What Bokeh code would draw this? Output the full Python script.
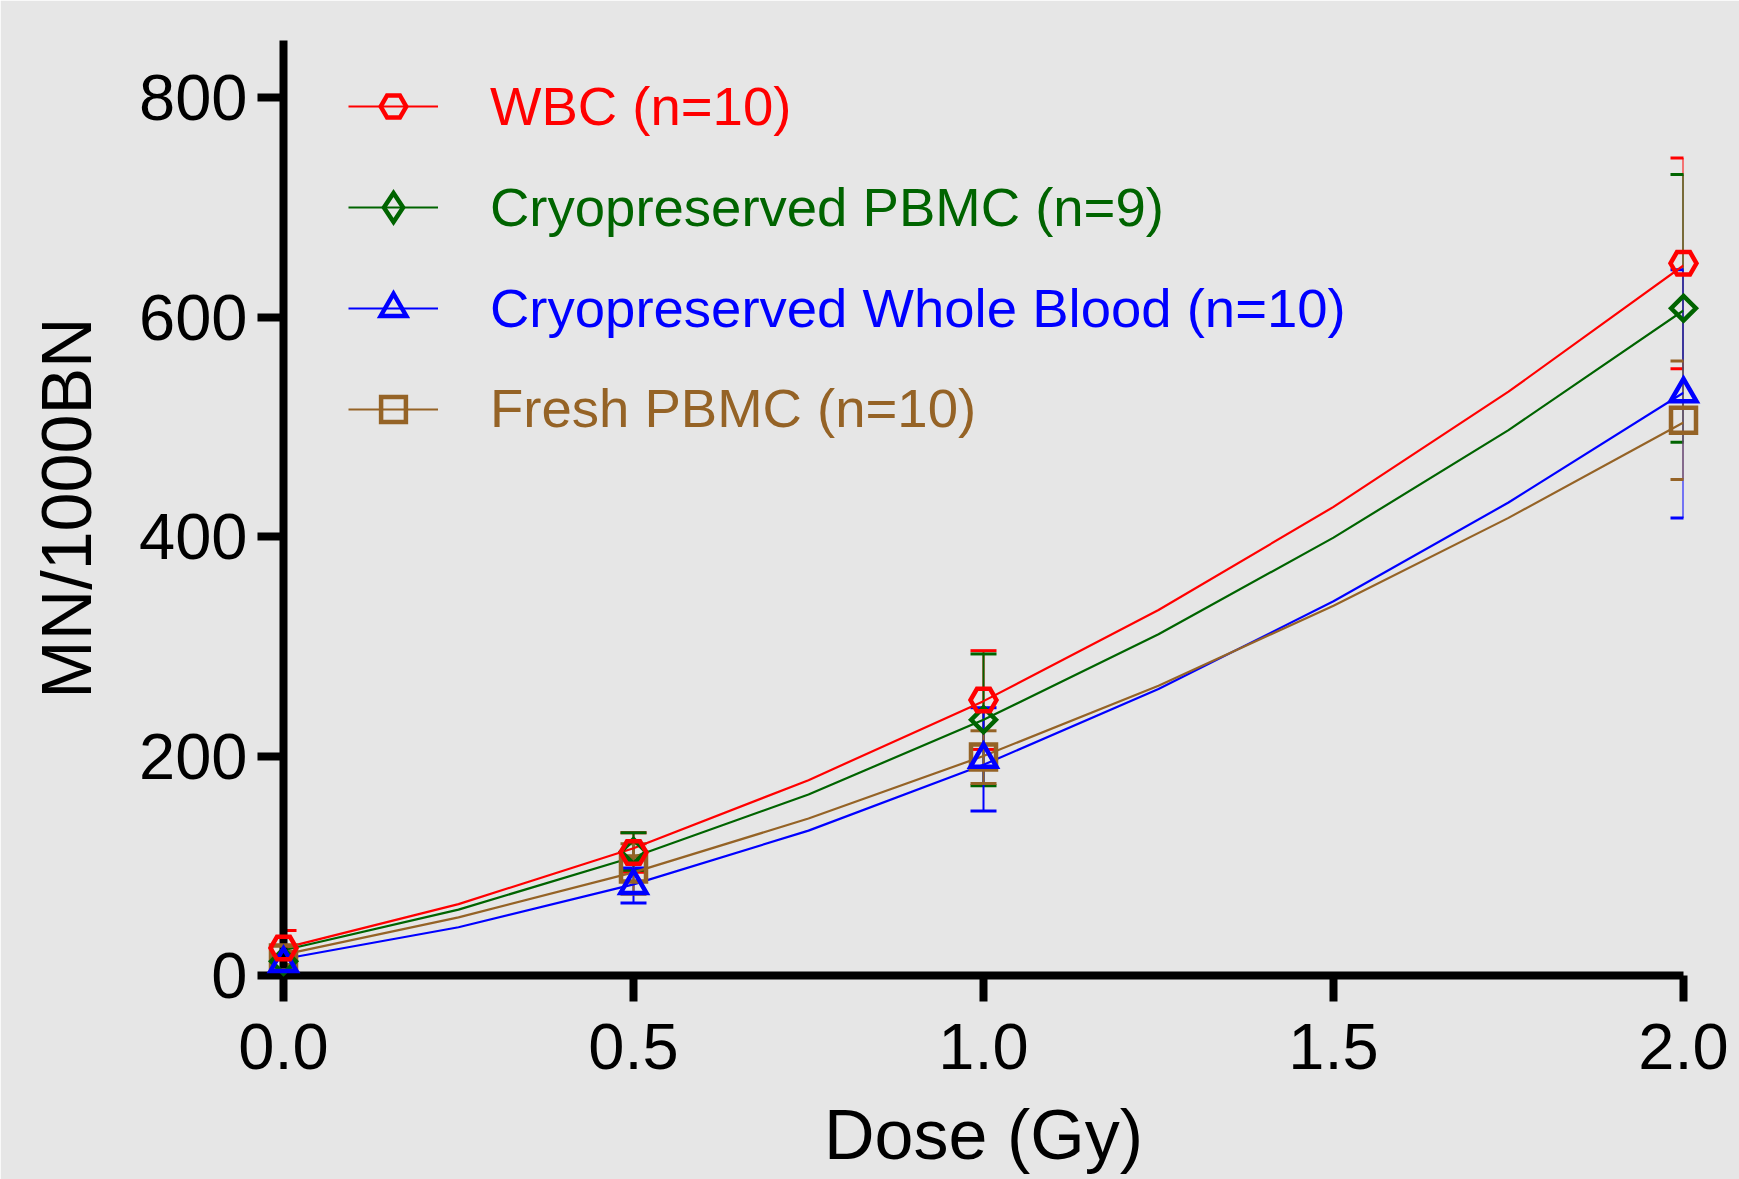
import math
from bokeh.plotting import figure
from bokeh.models import (ColumnDataSource, Whisker, TeeHead, Legend, LegendItem,
                          FixedTicker, NumeralTickFormatter, Range1d)
from bokeh.embed import file_html
from bokeh.resources import INLINE

# ---- data ----
doses = [0.0, 0.5, 1.0, 2.0]
red_mean = [25, 112, 251, 649]
red_sd = [16, 18, 45, 96]
green_mean = [13, 113, 233, 608]
green_sd = [8, 17, 60, 122]
blue_mean = [11, 82, 197, 530]
blue_sd = [6, 16, 47, 113]
brown_mean = [16, 97, 199, 506]
brown_sd = [6, 23, 24, 54]

fit_doses = [0.0, 0.25, 0.5, 0.75, 1.0, 1.25, 1.5, 1.75, 2.0]
red_fit = [25, 65, 116, 178, 250, 333, 427, 532, 647]
green_fit = [23, 60, 108, 165, 233, 311, 399, 497, 606]
blue_fit = [15, 44, 83, 132, 192, 261, 341, 431, 531]
brown_fit = [19, 53, 94, 143, 200, 264, 337, 417, 504]

labels = ["WBC (n=10)", "Cryopreserved PBMC (n=9)",
          "Cryopreserved Whole Blood (n=10)", "Fresh PBMC (n=10)"]
x_ticks = [0.0, 0.5, 1.0, 1.5, 2.0]
y_ticks = [0, 200, 400, 600, 800]
x_title = "Dose (Gy)"
y_title = "MN/1000BN"

# ---- styling ----
BG = "#e6e6e6"
FONT = "Liberation Sans"
colors = ["#ff0000", "#006400", "#0000ff", "#956326"]
markers = ["hex", "square", "triangle", "square"]
legend_markers = ["hex", "diamond", "triangle", "square"]
angles = [0.0, math.pi / 4, 0.0, 0.0]
msizes = [26, 17.5, 26, 25]

series = [
    (red_mean, red_sd, red_fit),
    (green_mean, green_sd, green_fit),
    (blue_mean, blue_sd, blue_fit),
    (brown_mean, brown_sd, brown_fit),
]

p = figure(width=1739, height=1179, output_backend="svg", toolbar_location=None,
           x_range=Range1d(0, 2.0), y_range=Range1d(0, 852),
           min_border_left=283, min_border_right=56, min_border_top=40,
           min_border_bottom=204)
p.background_fill_color = BG
p.border_fill_color = BG
p.outline_line_color = BG
p.outline_line_width = 2
p.xgrid.visible = False
p.ygrid.visible = False

for ax in (p.xaxis[0], p.yaxis[0]):
    ax.axis_line_width = 8
    ax.axis_line_color = "black"
    ax.major_tick_line_width = 8
    ax.major_tick_line_color = "black"
    ax.major_tick_out = 26
    ax.major_tick_in = 0
    ax.minor_tick_line_color = None
    ax.major_label_text_font = FONT
    ax.major_label_text_font_size = "65px"
    ax.major_label_text_color = "black"
    ax.axis_label_text_font = FONT
    ax.axis_label_text_font_size = "70px"
    ax.axis_label_text_font_style = "normal"
    ax.axis_label_text_color = "black"

p.xaxis.ticker = FixedTicker(ticks=x_ticks)
p.xaxis.formatter = NumeralTickFormatter(format="0.0")
p.yaxis.ticker = FixedTicker(ticks=y_ticks)
p.xaxis.axis_label = x_title
p.yaxis.axis_label = y_title
p.xaxis.major_label_standoff = 22
p.yaxis.major_label_standoff = 10
p.xaxis.axis_label_standoff = 24
p.yaxis.axis_label_standoff = 30

line_rs = []
src_list = []
for (mean, sd, fit), c in zip(series, colors):
    src = ColumnDataSource(dict(x=doses, y=mean,
                                upper=[m + s for m, s in zip(mean, sd)],
                                lower=[m - s for m, s in zip(mean, sd)]))
    src_list.append(src)
    w = Whisker(base="x", upper="upper", lower="lower", source=src,
                line_color=c, line_width=2,
                upper_head=TeeHead(size=26, line_color=c, line_width=3),
                lower_head=TeeHead(size=26, line_color=c, line_width=3))
    p.add_layout(w)

for (mean, sd, fit), c in zip(series, colors):
    lr = p.line(fit_doses, fit, line_color=c, line_width=2.2)
    line_rs.append(lr)

marker_rs = [None] * 4
for i in [3, 1, 2, 0]:
    r = p.scatter("x", "y", source=src_list[i], marker=markers[i], size=msizes[i],
                  angle=angles[i], line_color=colors[i], line_width=4.5,
                  line_join="miter", fill_color=None)
    r.level = "overlay"
    marker_rs[i] = r

# legend symbols: the legend draws markers unrotated, so the diamond series gets
# a legend-only glyph (a single non-plotted NaN point) with the diamond shape
legend_sym = []
for i in range(4):
    if legend_markers[i] == markers[i] and angles[i] == 0.0:
        legend_sym.append(marker_rs[i])
    else:
        legend_sym.append(p.scatter(x=[float("nan")], y=[float("nan")],
                                    marker=legend_markers[i], size=msizes[i],
                                    line_color=colors[i], line_width=4.5,
                                    line_join="miter", fill_color=None))

row_centers = [869, 768, 667, 566]
glyph_h = [64, 72, 64, 62]
for i in range(4):
    H = glyph_h[i]
    leg = Legend(items=[LegendItem(label=labels[i], renderers=[line_rs[i], legend_sym[i]])],
                 location=(65, row_centers[i] - H / 2),
                 glyph_width=90, glyph_height=H, label_height=H,
                 label_standoff=52, padding=0, margin=0, spacing=0,
                 border_line_alpha=0, background_fill_alpha=0,
                 label_text_font=FONT, label_text_font_size="54.5px",
                 label_text_color=colors[i])
    p.add_layout(leg, "center")

open("out.html", "w").write(file_html(p, INLINE))
